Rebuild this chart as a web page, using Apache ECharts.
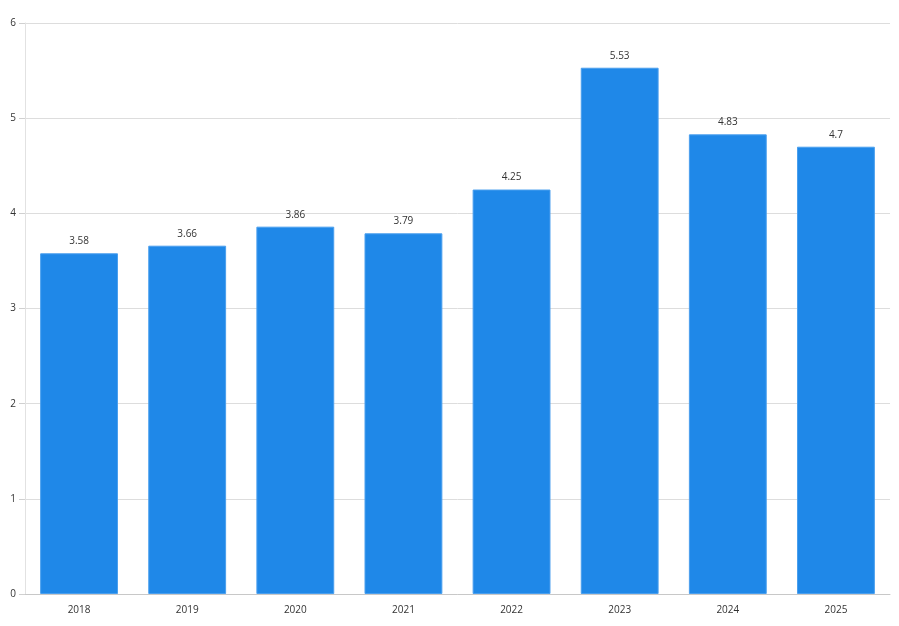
<!DOCTYPE html>
<html><head><meta charset="utf-8">
<script src="https://cdn.jsdelivr.net/npm/echarts@6/dist/echarts.min.js"></script>
<style>html,body{margin:0;padding:0;background:#fff}#c{width:899px;height:626px}</style>
</head><body><div id="c"></div>
<script>
const categories = ['2018','2019','2020','2021','2022','2023','2024','2025'];
const values = [3.58, 3.66, 3.86, 3.79, 4.25, 5.53, 4.83, 4.7];
const yTicks = [0, 1, 2, 3, 4, 5, 6];

const chart = echarts.init(document.getElementById('c'), null, {renderer:'canvas'});
chart.setOption({
  animation: false,
  textStyle: {fontFamily: 'Open Sans'},
  grid: {left: 25, right: 9, top: 23, bottom: 32, containLabel: false},
  xAxis: {
    type: 'category', data: categories,
    axisLine: {lineStyle: {color: '#c8c8c8'}},
    axisTick: {show: false},
    axisLabel: {color: '#333', fontSize: 10, margin: 11, fontFamily: 'Open Sans'}
  },
  yAxis: {
    type: 'value', min: yTicks[0], max: yTicks[yTicks.length-1], interval: 1,
    axisLine: {show: true, lineStyle: {color: '#e2e2e2'}},
    axisTick: {show: true, length: 6, lineStyle: {color: '#d0d0d0'}},
    axisLabel: {color: '#333', fontSize: 10, margin: 9, fontFamily: 'Open Sans'},
    splitLine: {lineStyle: {color: '#dddddd'}}
  },
  series: [{
    type: 'bar', data: values, barWidth: '72%',
    itemStyle: {color: '#1f88e8', borderColor: '#4a9fee', borderWidth: 1},
    label: {show: true, position: 'top', distance: 7, color: '#333', fontSize: 10, fontFamily: 'Open Sans'}
  }]
});
</script></body></html>
